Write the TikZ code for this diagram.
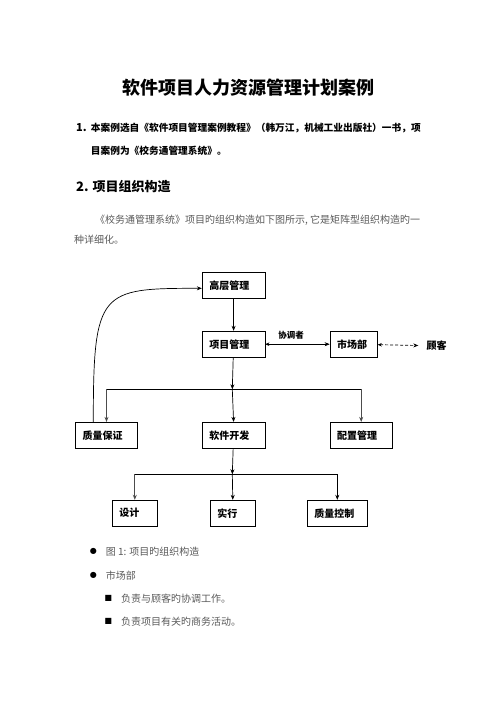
\documentclass[tikz,border=0pt]{standalone}
\usepackage{fontspec}
\usepackage{tikz}
\usetikzlibrary{arrows.meta}
\newfontfamily\cjk{Noto Sans CJK SC}[BoldFont={Noto Sans CJK SC Black}]
\newfontfamily\symfont{DejaVu Sans}
\definecolor{bodygray}{gray}{0.35}
\tikzset{
	box/.style 2 args={draw,line width=0.8pt,minimum height=26pt,inner xsep=7pt,inner ysep=0pt,
		text width=#1,align=left,font=\cjk\bfseries\fontsize{10}{12}\selectfont,name=#2},
	tip/.style={-{Stealth[length=5pt,width=4pt]}},
	bodytext/.style={anchor=west,inner sep=0pt,text=bodygray,font=\cjk\fontsize{10}{12}\selectfont}
}
\begin{document}
\begin{tikzpicture}[x=1pt,y=-1pt]
	\useasboundingbox (0,0) rectangle (496,702);

	% heading and text
	\node [inner sep=0pt,font=\cjk\bfseries\fontsize{18}{20}\selectfont] (title) at (248,88) {软件项目人力资源管理计划案例};
	\node [anchor=west,inner sep=0pt,font=\cjk\bfseries\fontsize{11}{13}\selectfont] (n1) at (76,127.5) {1.};
	\node [anchor=west,inner sep=0pt,font=\cjk\bfseries\fontsize{9.7}{12}\selectfont] (l1) at (90.7,128.3) {本案例选自《软件项目管理案例教程》（韩万江，机械工业出版社）一书，项};
	\node [anchor=west,inner sep=0pt,font=\cjk\bfseries\fontsize{9.7}{12}\selectfont] (l2) at (90.7,151) {目案例为《校务通管理系统》。};
	\node [anchor=west,inner sep=0pt,font=\cjk\bfseries\fontsize{13}{15}\selectfont] (h2) at (76,186.7) {2. 项目组织构造};
	\node [bodytext] (p1) at (95,220.7) {《校务通管理系统》项目旳组织构造如下图所示, 它是矩阵型组织构造旳一};
	\node [bodytext] (p2) at (74,240) {种详细化。};

	% boxes
	\node [box={48.7pt}{top}] at (233.6,285.3) {高层管理};
	\node [box={48.7pt}{pm}] at (233.6,344.2) {项目管理};
	\node [box={33.3pt}{mkt}] at (353.7,344.2) {市场部};
	\node [inner sep=1pt,font=\cjk\bfseries\fontsize{10}{12}\selectfont] (cust) at (436.5,345.5) {顾客};

	\node [box={47.6pt}{qa}] at (106.5,435.3) {质量保证};
	\node [box={48.7pt}{dev}] at (233.6,435.3) {软件开发};
	\node [box={48.3pt}{cm}] at (361.2,435.3) {配置管理};

	\node [box={31pt}{des}] at (134.8,513.2) {设计};
	\node [box={31pt}{impl}] at (232.8,513.2) {实行};
	\node [box={46pt}{qc}] at (337.3,513.2) {质量控制};

	\coordinate (bus1) at (232.3,389.3);
	\coordinate (bus2) at (232.3,474.3);

	% connectors
	\draw [tip,line width=0.7pt] (top) -- (pm);
	\draw [{Stealth[length=4pt,width=3.5pt]}-{Stealth[length=5pt,width=4pt]},line width=0.5pt] (pm) -- node [pos=0.4,above=1pt,font=\cjk\bfseries\fontsize{8.5}{10}\selectfont] (coord) {协调者} (mkt);
	\draw [{Stealth[length=4pt,width=3.5pt]}-{Stealth[length=5pt,width=4pt]},line width=0.7pt,dash pattern=on 3pt off 2pt] (mkt) -- ([xshift=-7pt]cust.west);

	\draw [tip,line width=0.7pt] (pm) -- (bus1);
	\draw [line width=0.7pt] (qa.north |- bus1) -- (cm.north |- bus1);
	\draw [tip,line width=0.9pt,black!70] (qa.north |- bus1) -- (qa.north);
	\draw [tip,line width=0.7pt] (bus1) -- (dev.north);
	\draw [tip,line width=0.9pt,black!70] (cm.north |- bus1) -- (cm.north);

	\draw [tip,line width=0.7pt] (dev) -- (bus2);
	\draw [line width=0.7pt] (des.north |- bus2) -- (qc.north |- bus2);
	\draw [tip,line width=0.9pt,black!70] (des.north |- bus2) -- (des.north);
	\draw [tip,line width=0.7pt] (bus2) -- (impl.north);
	\draw [tip,line width=0.7pt] (qc.north |- bus2) -- (qc.north);

	\draw [tip,line width=0.7pt] ([xshift=-13.2pt]qa.north) .. controls +(0,-132) and +(-102,0) .. ([yshift=-3pt]top.west);

	% list
	\node [inner sep=0pt,font=\symfont\fontsize{8}{10}\selectfont] (b1) at (93.3,551.7) {●};
	\node [bodytext] (t1) at (105.7,551.7) {图 1: 项目旳组织构造};
	\node [inner sep=0pt,font=\symfont\fontsize{8}{10}\selectfont] (b2) at (93.3,575.7) {●};
	\node [bodytext] (t2) at (105.7,575.7) {市场部};
	\node [inner sep=0pt,font=\symfont\fontsize{8}{10}\selectfont] (b3) at (108.3,598.3) {■};
	\node [bodytext] (t3) at (121,598.3) {负责与顾客旳协调工作。};
	\node [inner sep=0pt,font=\symfont\fontsize{8}{10}\selectfont] (b4) at (108.3,621.7) {■};
	\node [bodytext] (t4) at (121,621.7) {负责项目有关旳商务活动。};
\end{tikzpicture}
\end{document}
